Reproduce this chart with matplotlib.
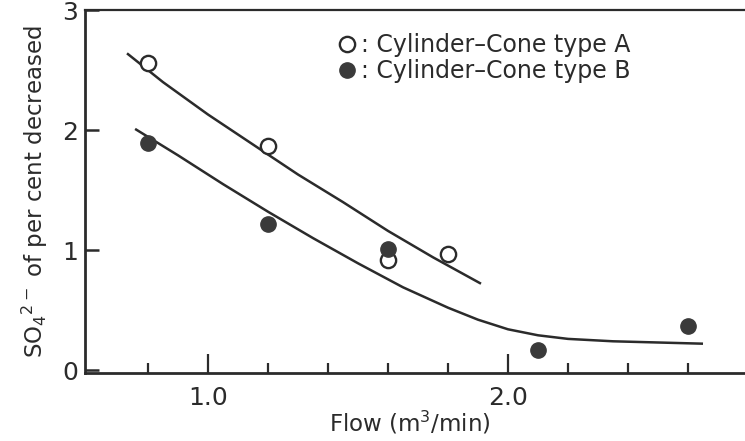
import numpy as np
import matplotlib
matplotlib.use('Agg')
import matplotlib.pyplot as plt
from matplotlib.lines import Line2D
from matplotlib.ticker import FixedLocator

# Dados
flow_a = [0.8, 1.2, 1.6, 1.8]
so4_a = [2.56, 1.87, 0.92, 0.97]

flow_b = [0.8, 1.2, 1.6, 2.1, 2.6]
so4_b = [1.89, 1.22, 1.01, 0.17, 0.37]

# Curvas ajustadas
curve_a_x = [0.73, 0.85, 1.0, 1.15, 1.3, 1.45, 1.6, 1.75, 1.91]
curve_a_y = [2.64, 2.40, 2.13, 1.88, 1.63, 1.40, 1.16, 0.94, 0.72]

curve_b_x = [0.757, 0.9, 1.05, 1.2, 1.35, 1.5, 1.65, 1.8, 1.9, 2.0, 2.1, 2.2, 2.35, 2.5, 2.65]
curve_b_y = [2.01, 1.79, 1.55, 1.32, 1.10, 0.89, 0.69, 0.52, 0.42, 0.34, 0.29, 0.26, 0.24, 0.23, 0.22]

labels = [': Cylinder\u2013Cone type A', ': Cylinder\u2013Cone type B']
x_major = [1.0, 2.0]
x_minor = [0.8, 1.2, 1.4, 1.6, 1.8, 2.2, 2.4, 2.6]
y_ticks = [0, 1, 2, 3]

ink = '#2b2b2b'
fill = '#3a3a3a'
plt.rcParams['font.family'] = ['DejaVu Sans']

fig = plt.figure(figsize=(7.45, 4.41), dpi=100)
ax = fig.add_axes([0.1141, 0.154, 0.8859, 0.823])

ax.plot(curve_a_x, curve_a_y, color=ink, lw=1.8, solid_capstyle='butt')
ax.plot(curve_b_x, curve_b_y, color=ink, lw=1.8, solid_capstyle='butt')

ax.plot(flow_a, so4_a, 'o', ms=11, mfc='white', mec=ink, mew=1.7, zorder=3)
ax.plot(flow_b, so4_b, 'o', ms=11, mfc=fill, mec=fill, mew=1.0, zorder=3)

ax.set_xlim(0.59, 2.79)
ax.set_ylim(-0.025, 3.0)

ax.xaxis.set_major_locator(FixedLocator(x_major))
ax.xaxis.set_minor_locator(FixedLocator(x_minor))
ax.set_xticklabels(['1.0', '2.0'])
ax.yaxis.set_major_locator(FixedLocator(y_ticks))
ax.set_yticklabels([str(v) for v in y_ticks])

ax.tick_params(axis='x', which='major', direction='in', length=14, width=1.6,
               pad=9, labelsize=18, colors=ink)
ax.tick_params(axis='x', which='minor', direction='in', length=7, width=1.6, colors=ink)
ax.tick_params(axis='y', which='major', direction='in', length=10, width=1.8,
               pad=5, labelsize=18, colors=ink)

for side in ['left', 'bottom']:
    ax.spines[side].set_linewidth(2.0)
    ax.spines[side].set_color(ink)
ax.spines['top'].set_linewidth(1.6)
ax.spines['top'].set_color(ink)
ax.spines['right'].set_visible(False)

ax.set_xlabel('Flow (m$^3$/min)', fontsize=16.5, color=ink, labelpad=0)
ax.xaxis.label.set_x(0.492)
ax.set_ylabel('SO$_4$$^{2-}$ of per cent decreased', fontsize=16.5, color=ink, labelpad=9)

handles = [
    Line2D([], [], ls='none', marker='o', ms=11, mfc='white', mec=ink, mew=1.7),
    Line2D([], [], ls='none', marker='o', ms=11, mfc=fill, mec=fill),
]
ax.legend(handles, labels, loc='upper left', bbox_to_anchor=(0.351, 0.995),
          frameon=False, handlelength=0.8, handletextpad=0.17, labelspacing=0.08,
          fontsize=17, labelcolor=ink)

fig.savefig('out.png', dpi=100)
